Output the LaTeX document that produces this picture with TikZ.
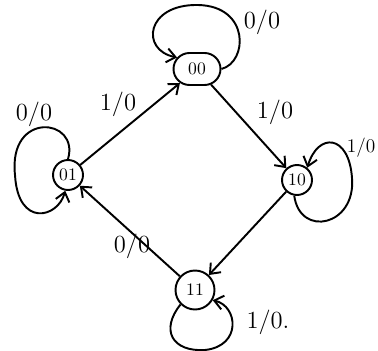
\documentclass[tikz,border=0pt]{standalone}
\usetikzlibrary{arrows.meta,shapes.misc}
\begin{document}
\begin{tikzpicture}[x=0.02cm,y=-0.02cm,
  every path/.style={line width=1.1pt},
  st/.style={draw,circle,inner sep=0pt,minimum size=0.6cm,font=\normalsize},
  lbl/.style={font=\fontsize{14}{16}\selectfont},
  arr/.style={-{Straight Barb[length=5pt,width=8pt]}}]
\useasboundingbox (0,0) rectangle (378,351);
\node[draw,rounded rectangle,minimum width=0.94cm,minimum height=0.64cm,inner sep=0pt] (n00) at (197,69) {00};
\node[st] (n01) at (68,175) {01};
\node[st] (n10) at (297,180) {10};
\node[st,minimum size=0.78cm] (n11) at (195,290) {11};
% edges
\draw[arr] (n01) -- (n00);
\draw[arr] (n00) -- (n10);
\draw[arr] (n10) -- (n11);
\draw[arr] (n11) -- (n01);
% self loops
\draw[arr] (n00.east) .. controls (248,62) and (250,6) .. (198,5) .. controls (146,4) and (140,50) .. (n00.150);
\draw[arr] (n01.north) .. controls (80,118) and (8,110) .. (15,175) .. controls (18,228) and (58,218) .. (n01.260);
\draw[arr] (n10.260) .. controls (300,238) and (356,226) .. (352,178) .. controls (349,134) and (318,132) .. (n10.50);
\draw[arr] (n11.225) .. controls (160,330) and (172,352) .. (205,350) .. controls (242,346) and (238,306) .. (n11.-30);
% labels
\node[lbl] (l1) at (262,22) {0/0};
\node[lbl] (l2) at (34,114) {0/0};
\node[lbl] (l3) at (118,104) {1/0};
\node[lbl] (l4) at (275,112) {1/0};
\node[lbl,anchor=east,font=\fontsize{11}{13}\selectfont,inner sep=1pt] (l5) at (378,148) {1/0};
\node[lbl] (l6) at (132,246) {0/0};
\node[lbl] (l7) at (268,322) {1/0.};
\end{tikzpicture}
\end{document}
